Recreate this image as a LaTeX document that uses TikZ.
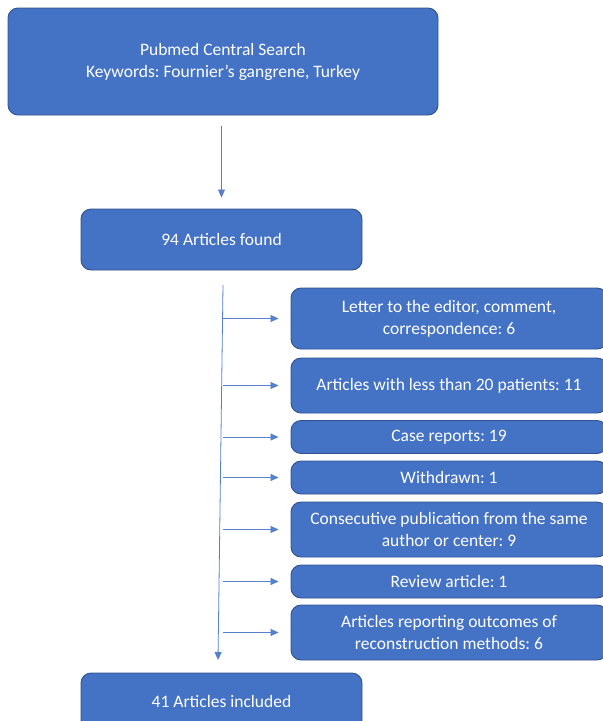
\documentclass[tikz,border=0pt]{standalone}
\usepackage{fontspec}
\setmainfont{Carlito}
\usetikzlibrary{arrows.meta}
\definecolor{boxblue}{HTML}{4472C4}
\definecolor{boxedge}{HTML}{2F528F}
\definecolor{lineblue}{HTML}{5580CC}
\frenchspacing

\begin{document}
\begin{tikzpicture}[x=1pt, y=-1pt,
  stage/.style={draw=boxedge, line width=0.9pt, fill=boxblue, rounded corners=10pt,
    text=white, align=center, inner sep=0pt, font=\fontsize{17.5}{22}\selectfont},
  reason/.style={stage, minimum width=316pt},
  flow/.style={draw=lineblue, line width=0.8pt, -{Triangle[width=7pt,length=8pt]}}]
\clip (0,0) rectangle (603,721);

\node[stage, minimum width=430pt, minimum height=107pt] (search) at (223,61.5)
  {Pubmed Central Search\\Keywords: Fournier’s gangrene, Turkey};
\node[stage, minimum width=281pt, minimum height=61pt] (found) at (221.5,239.5) {94 Articles found};
\node[stage, minimum width=281pt, minimum height=57pt] (incl) at (221.5,701.5) {41 Articles included};

% excluded articles
\node[reason, minimum height=61pt] (letter) at (449,318.5) {Letter to the editor, comment,\\correspondence: 6};
\node[reason, minimum height=55pt] (few) at (449,385.5) {Articles with less than 20 patients: 11};
\node[reason, minimum height=33pt] (case) at (449,437) {Case reports: 19};
\node[reason, minimum height=33pt] (withdr) at (449,477.5) {Withdrawn: 1};
\node[reason, minimum height=55pt] (consec) at (449,529.5) {Consecutive publication from the same\\author or center: 9};
\node[reason, minimum height=33pt] (review) at (449,581.5) {Review article: 1};
\node[reason, minimum height=55pt] (recon) at (449,632.5) {Articles reporting outcomes of\\reconstruction methods: 6};

\coordinate (trunk) at (223,285);
\coordinate (trunkend) at (218,660);

\draw[flow, shorten <=11pt, shorten >=11pt] (found.north |- search.south) -- (found.north);
\draw[flow] (trunk) -- (trunkend);
\foreach \b in {letter,few,case,withdr,consec,review,recon}
  \draw[flow, shorten >=12pt] (\b.west -| trunk) -- (\b.west);
\end{tikzpicture}
\end{document}
